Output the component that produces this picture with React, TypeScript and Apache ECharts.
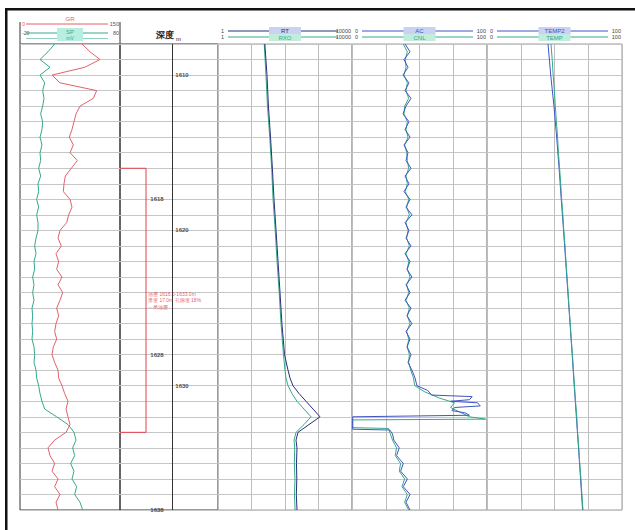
import React, { useEffect, useRef } from "react";
import * as echarts from "echarts";

// ---------------- data ----------------
const DEPTH_MIN = 1608;
const DEPTH_MAX = 1638;

const depthHalf = [
  1608, 1608.5, 1609, 1609.5, 1610, 1610.5, 1611, 1611.5, 1612, 1612.5, 1613, 1613.5, 1614, 1614.5, 1615, 1615.5,
  1616, 1616.5, 1617, 1617.5, 1618, 1618.5, 1619, 1619.5, 1620, 1620.5, 1621, 1621.5, 1622, 1622.5, 1623, 1623.5,
  1624, 1624.5, 1625, 1625.5, 1626, 1626.5, 1627, 1627.5, 1628, 1628.5, 1629, 1629.5, 1630, 1630.5, 1631, 1631.5,
  1632, 1632.5, 1633, 1633.5, 1634, 1634.5, 1635, 1635.5, 1636, 1636.5, 1637, 1637.5, 1638,
];
const grValues = [
  93, 105, 120, 97, 48, 60, 115, 110, 90, 84, 81, 78, 74, 80, 75, 86,
  77, 68, 66, 65, 75, 78, 73, 70, 60, 57, 62, 54, 58, 55, 63, 57,
  64, 60, 55, 58, 54, 52, 55, 50, 48, 52, 57, 58, 63, 67, 72, 69,
  72, 75, 69, 52, 42, 45, 52, 48, 57, 52, 60, 54, 57,
];
const spValues = [
  52, 42, 30, 45, 30, 37, 34, 36, 34, 31, 34, 33, 30, 33, 30, 31,
  28, 31, 27, 28, 25, 28, 25, 27, 27, 24, 22, 24, 21, 22, 19, 21,
  19, 21, 18, 19, 18, 19, 18, 21, 22, 21, 24, 25, 28, 30, 33, 37,
  55, 72, 81, 84, 79, 82, 76, 81, 78, 85, 82, 90, 94,
];

const resDepth = [
  1608, 1610, 1612, 1614, 1616, 1618, 1620, 1622, 1624, 1626, 1628, 1629, 1629.5, 1630, 1630.5, 1631,
  1631.5, 1632, 1632.5, 1633, 1633.5, 1634, 1635, 1636, 1637, 1638,
];
const rtValues = [25, 29, 32, 37, 42, 47, 54, 62, 71, 81, 97, 123, 141, 173, 262, 424, 686, 1109, 520, 244, 213, 228, 220, 225, 218, 228];
const rxoValues = [24, 27, 30, 35, 40, 44, 51, 58, 67, 76, 90, 100, 107, 123, 162, 228, 369, 597, 369, 213, 186, 195, 190, 198, 192, 200];

const acDepth = [
  1608, 1608.5, 1609, 1609.5, 1610, 1610.5, 1611, 1611.5, 1612, 1612.5, 1613, 1613.5, 1614, 1614.5, 1615, 1615.5,
  1616, 1616.5, 1617, 1617.5, 1618, 1618.5, 1619, 1619.5, 1620, 1620.5, 1621, 1621.5, 1622, 1622.5, 1623, 1623.5,
  1624, 1624.5, 1625, 1625.5, 1626, 1626.5, 1627, 1627.5, 1628, 1628.5, 1629, 1629.5, 1630,
  1630.3, 1630.6, 1630.7, 1630.9, 1631.0, 1631.1, 1631.3, 1631.4, 1631.6, 1631.75, 1631.9, 1632.0, 1632.8, 1632.85,
  1633.1, 1633.5, 1634, 1634.5, 1635, 1635.5, 1636, 1636.5, 1637, 1637.5, 1638,
];
const acValues = [
  39.3, 43.0, 38.5, 41.5, 37.8, 42.2, 39.3, 43.7, 40.0, 37.8, 42.2, 39.3, 43.0, 38.5, 41.5, 40.0,
  43.7, 39.3, 42.2, 38.5, 43.0, 40.0, 44.4, 39.3, 42.2, 40.0, 43.7, 39.3, 43.0, 40.7, 44.4, 40.0,
  43.0, 39.3, 43.7, 40.7, 44.4, 40.0, 43.0, 40.7, 43.7, 41.5, 44.4, 46.7, 48.1,
  56, 59, 89, 87, 73, 93, 95, 76, 74, 84, 87, 0.5, 0.5, 28,
  30, 31, 35, 33, 38, 36, 41, 38, 43, 40, 43,
];
const cnlDepth = [
  1608, 1608.5, 1609, 1609.5, 1610, 1610.5, 1611, 1611.5, 1612, 1612.5, 1613, 1613.5, 1614, 1614.5, 1615, 1615.5,
  1616, 1616.5, 1617, 1617.5, 1618, 1618.5, 1619, 1619.5, 1620, 1620.5, 1621, 1621.5, 1622, 1622.5, 1623, 1623.5,
  1624, 1624.5, 1625, 1625.5, 1626, 1626.5, 1627, 1627.5, 1628, 1628.5, 1629, 1629.5, 1630,
  1630.4, 1630.8, 1631.1, 1631.4, 1631.7, 1632.0, 1632.15, 1632.2, 1632.7, 1632.75,
  1633, 1633.5, 1634, 1634.5, 1635, 1635.5, 1636, 1636.5, 1637, 1637.5, 1638,
];
const cnlValues = [
  38.0, 41.0, 39.5, 40.0, 38.5, 41.0, 40.0, 42.0, 39.0, 38.5, 41.0, 40.0, 41.5, 39.0, 40.5, 41.0,
  42.0, 40.0, 41.0, 39.5, 42.0, 40.5, 42.5, 40.0, 41.5, 40.5, 42.5, 40.0, 42.0, 41.0, 43.0, 40.5,
  42.0, 40.0, 42.5, 41.0, 43.0, 40.5, 42.0, 41.0, 42.5, 42.0, 43.5, 45.5, 46.5,
  54, 65, 76, 73, 80, 87, 99, 0.5, 0.5, 27,
  28, 30, 33, 32, 36, 35, 39, 37, 41, 39, 42,
];

const tempDepth = [
  1608, 1609, 1610, 1611, 1612, 1613, 1614, 1615, 1616, 1617, 1618, 1619, 1620, 1621, 1622, 1623,
  1624, 1625, 1626, 1627, 1628, 1629, 1630, 1631, 1632, 1633, 1634, 1635, 1636, 1637, 1638,
];
const tempValues = [
  47.4, 48.3, 49.0, 49.9, 50.6, 51.4, 52.3, 52.9, 53.8, 54.6, 55.3, 56.2, 56.9, 57.8, 58.5, 59.3,
  60.1, 60.8, 61.7, 62.4, 63.3, 64.0, 64.8, 65.6, 66.5, 67.1, 68.0, 68.7, 69.6, 70.3, 71.1,
];
const temp2Depth = [1608, 1610, 1612, 1614, 1616, 1618, 1620, 1622, 1624, 1626, 1628, 1630, 1632, 1634, 1636, 1638];
const temp2Values = [45.2, 47.2, 49.6, 51.6, 53.4, 55.0, 56.7, 58.3, 59.9, 61.5, 63.1, 64.6, 66.2, 67.8, 69.3, 70.8];

const rightDepthLabels = [1610, 1620, 1630];
const leftDepthLabels = [1618, 1628, 1638];
const zoneTop = 1616;
const zoneBottom = 1633;
const zoneNotes = ["油层 1616.0-1633.0m", "厚度 17.0m 孔隙度 18%", "一类油层"];

const track1Names = ["GR", "SP"];
const track1Scale = [["0", "150"], ["-20", "80"]];
const track3Names = ["RT", "RXO"];
const track3Scale = ["1", "10000"];
const track4Names = ["AC", "CNL"];
const track4Scale = ["0", "100"];
const track5Names = ["TEMP2", "TEMP"];
const track5Scale = ["0", "100"];

// ---------------- style ----------------
const RED = "#e4606a";
const TEAL = "#34a98c";
const NAVY = "#27327a";
const BLUE = "#4253c6";
const FONT = "Liberation Sans, Arial, sans-serif";

const TOP = 44;
const HEIGHT = 466;
const tracks = [
  { left: 20, width: 100 },
  { left: 120, width: 98 },
  { left: 218, width: 134 },
  { left: 352, width: 135 },
  { left: 487, width: 135 },
];

function pairs(xs: number[], ds: number[]) {
  return xs.map((v, i) => [v, ds[i]]);
}

function txt(x: number, y: number, text: string, fill: string, size: number, align = "center", weight = "normal") {
  return {
    type: "text",
    x,
    y,
    z: 20,
    style: { text, fill, fontSize: size, fontFamily: FONT, fontWeight: weight, align, verticalAlign: "middle" },
  };
}
function ln(x1: number, y1: number, x2: number, y2: number, stroke: string, w = 1) {
  return { type: "line", z: 15, shape: { x1, y1, x2, y2 }, style: { stroke, lineWidth: w } };
}
function rc(x: number, y: number, w: number, h: number, fill: string, z = 16) {
  return { type: "rect", z, shape: { x, y, width: w, height: h }, style: { fill } };
}

function rightHeader(x0: number, x1: number, names: string[], scale: string[], colors: string[]) {
  const c = (x0 + x1) / 2;
  const rows = [31, 37];
  const els: any[] = [];
  rows.forEach((y, i) => {
    els.push(ln(x0 + 10, y, x1 - 14, y, colors[i], 1));
    els.push(txt(x0 + 3, y, scale[0], "#444", 5.5, "left"));
    els.push(txt(x1 - 1, y, scale[1], "#444", 5.5, "right"));
  });
  els.push(rc(c - 16, 27, 32, 7, "#c9d2f2"));
  els.push(rc(c - 16, 34, 32, 7, "#c2ecdc"));
  els.push(txt(c, 30.5, names[0], colors[0], 6));
  els.push(txt(c, 37.5, names[1], colors[1], 6));
  return els;
}

export default function App() {
  const ref = useRef<HTMLDivElement>(null);
  useEffect(() => {
    document.body.style.margin = "0";
    const chart = echarts.init(ref.current!, null, { renderer: "svg" });

    const grid = tracks.map((t, i) => ({
      left: t.left,
      top: TOP,
      width: t.width,
      height: HEIGHT,
      show: true,
      borderColor: i < 2 ? "#333" : "#9a9a9a",
      borderWidth: 1,
      backgroundColor: "transparent",
    }));

    const hidden = { axisLine: { show: false }, axisTick: { show: false }, axisLabel: { show: false } };
    const vSplit = { show: true, lineStyle: { color: "#bdbdbd", width: 1 } };

    const xAxis: any[] = [
      { type: "value", gridIndex: 0, min: 0, max: 150, splitLine: { show: false }, ...hidden },
      { type: "value", gridIndex: 1, min: 0, max: 98, splitLine: { show: false }, ...hidden },
      { type: "log", gridIndex: 2, min: 1, max: 10000, logBase: 10, interval: 1, splitLine: vSplit, ...hidden },
      { type: "value", gridIndex: 3, min: 0, max: 100, interval: 25, splitLine: vSplit, ...hidden },
      { type: "value", gridIndex: 4, min: 0, max: 100, interval: 25, splitLine: vSplit, ...hidden },
    ];
    const yAxis = tracks.map((_, i) => ({
      type: "value",
      gridIndex: i,
      min: DEPTH_MIN,
      max: DEPTH_MAX,
      interval: 1,
      inverse: true,
      ...hidden,
      splitLine: { show: true, lineStyle: { color: "#c6c6c6", width: 1 } },
    }));

    const curve = (name: string, idx: number, data: number[][], color: string, z = 5) => ({
      name,
      type: "line",
      xAxisIndex: idx,
      yAxisIndex: idx,
      data,
      showSymbol: false,
      symbol: "none",
      z,
      lineStyle: { color, width: 1 },
      emphasis: { disabled: true },
    });

    const series: any[] = [
      curve("GR", 0, pairs(grValues, depthHalf), RED),
      curve("SP", 0, pairs(spValues, depthHalf), TEAL),
      {
        name: "zone",
        type: "line",
        xAxisIndex: 1,
        yAxisIndex: 1,
        data: [
          [0, zoneTop],
          [26, zoneTop],
          [26, zoneBottom],
          [0, zoneBottom],
        ],
        showSymbol: false,
        symbol: "none",
        lineStyle: { color: "#e2404c", width: 1 },
        markLine: {
          silent: true,
          symbol: "none",
          label: { show: false },
          lineStyle: { color: "#333", type: "solid", width: 1 },
          data: [{ xAxis: 52 }],
        },
      },
      {
        name: "depthR",
        type: "scatter",
        xAxisIndex: 1,
        yAxisIndex: 1,
        symbolSize: 0,
        data: rightDepthLabels.map((d) => [62, d]),
        label: {
          show: true,
          position: "inside",
          formatter: (p: any) => String(p.value[1]),
          fontSize: 6,
          fontWeight: "bold",
          color: "#222",
          fontFamily: FONT,
        },
      },
      {
        name: "depthL",
        type: "scatter",
        xAxisIndex: 1,
        yAxisIndex: 1,
        symbolSize: 0,
        data: leftDepthLabels.map((d) => [37, d]),
        label: {
          show: true,
          position: "inside",
          formatter: (p: any) => String(p.value[1]),
          fontSize: 6,
          fontWeight: "bold",
          color: "#222",
          fontFamily: FONT,
        },
      },
      {
        name: "note",
        type: "scatter",
        xAxisIndex: 1,
        yAxisIndex: 1,
        symbolSize: 0,
        data: [[27, (zoneTop + zoneBottom) / 2]],
        label: {
          show: true,
          position: "right",
          distance: 1,
          formatter: zoneNotes.join("\n"),
          fontSize: 5,
          lineHeight: 6.5,
          color: "#e2303a",
          fontFamily: FONT,
        },
      },
      curve("RXO", 2, pairs(rxoValues, resDepth), TEAL),
      curve("RT", 2, pairs(rtValues, resDepth), NAVY, 6),
      curve("CNL", 3, pairs(cnlValues, cnlDepth), TEAL),
      curve("AC", 3, pairs(acValues, acDepth), BLUE, 6),
      curve("TEMP2", 4, pairs(temp2Values, temp2Depth), BLUE),
      curve("TEMP", 4, pairs(tempValues, tempDepth), TEAL, 6),
    ];

    const graphic: any[] = [
      // outer frame
      rc(5, 8, 630, 2.5, "#111", 30),
      rc(5, 8, 2.5, 522, "#111", 30),
      // track 1 header
      ln(20, 22, 20, 44, "#333"),
      ln(120, 22, 120, 44, "#333"),
      ln(26, 24, 108, 24, RED),
      txt(70, 18.5, track1Names[0], RED, 6),
      txt(22, 24, track1Scale[0][0], RED, 5.5, "left"),
      txt(119, 24, track1Scale[0][1], "#555", 5.5, "right"),
      ln(26, 33, 108, 33, TEAL),
      ln(26, 38.5, 108, 38.5, "#8fcfc0"),
      rc(57, 28, 26, 13, "#b6efe2"),
      txt(70, 31.5, track1Names[1], TEAL, 6),
      txt(70, 37.5, "mV", TEAL, 5),
      txt(22, 33, track1Scale[1][0], "#555", 5, "left"),
      txt(119, 33, track1Scale[1][1], "#555", 5.5, "right"),
      // depth header
      txt(165, 35, "深度", "#222", 9, "center", "bold"),
      txt(176, 39, "m", "#222", 6, "left"),
      ...rightHeader(218, 352, track3Names, track3Scale, [NAVY, TEAL]),
      ...rightHeader(352, 487, track4Names, track4Scale, [BLUE, TEAL]),
      ...rightHeader(487, 622, track5Names, track5Scale, [BLUE, TEAL]),
    ];

    chart.setOption({
      animation: false,
      backgroundColor: "#ffffff",
      grid,
      xAxis,
      yAxis,
      series,
      graphic,
    });
    return () => chart.dispose();
  }, []);
  return <div ref={ref} style={{ width: 635, height: 530 }} />;
}
